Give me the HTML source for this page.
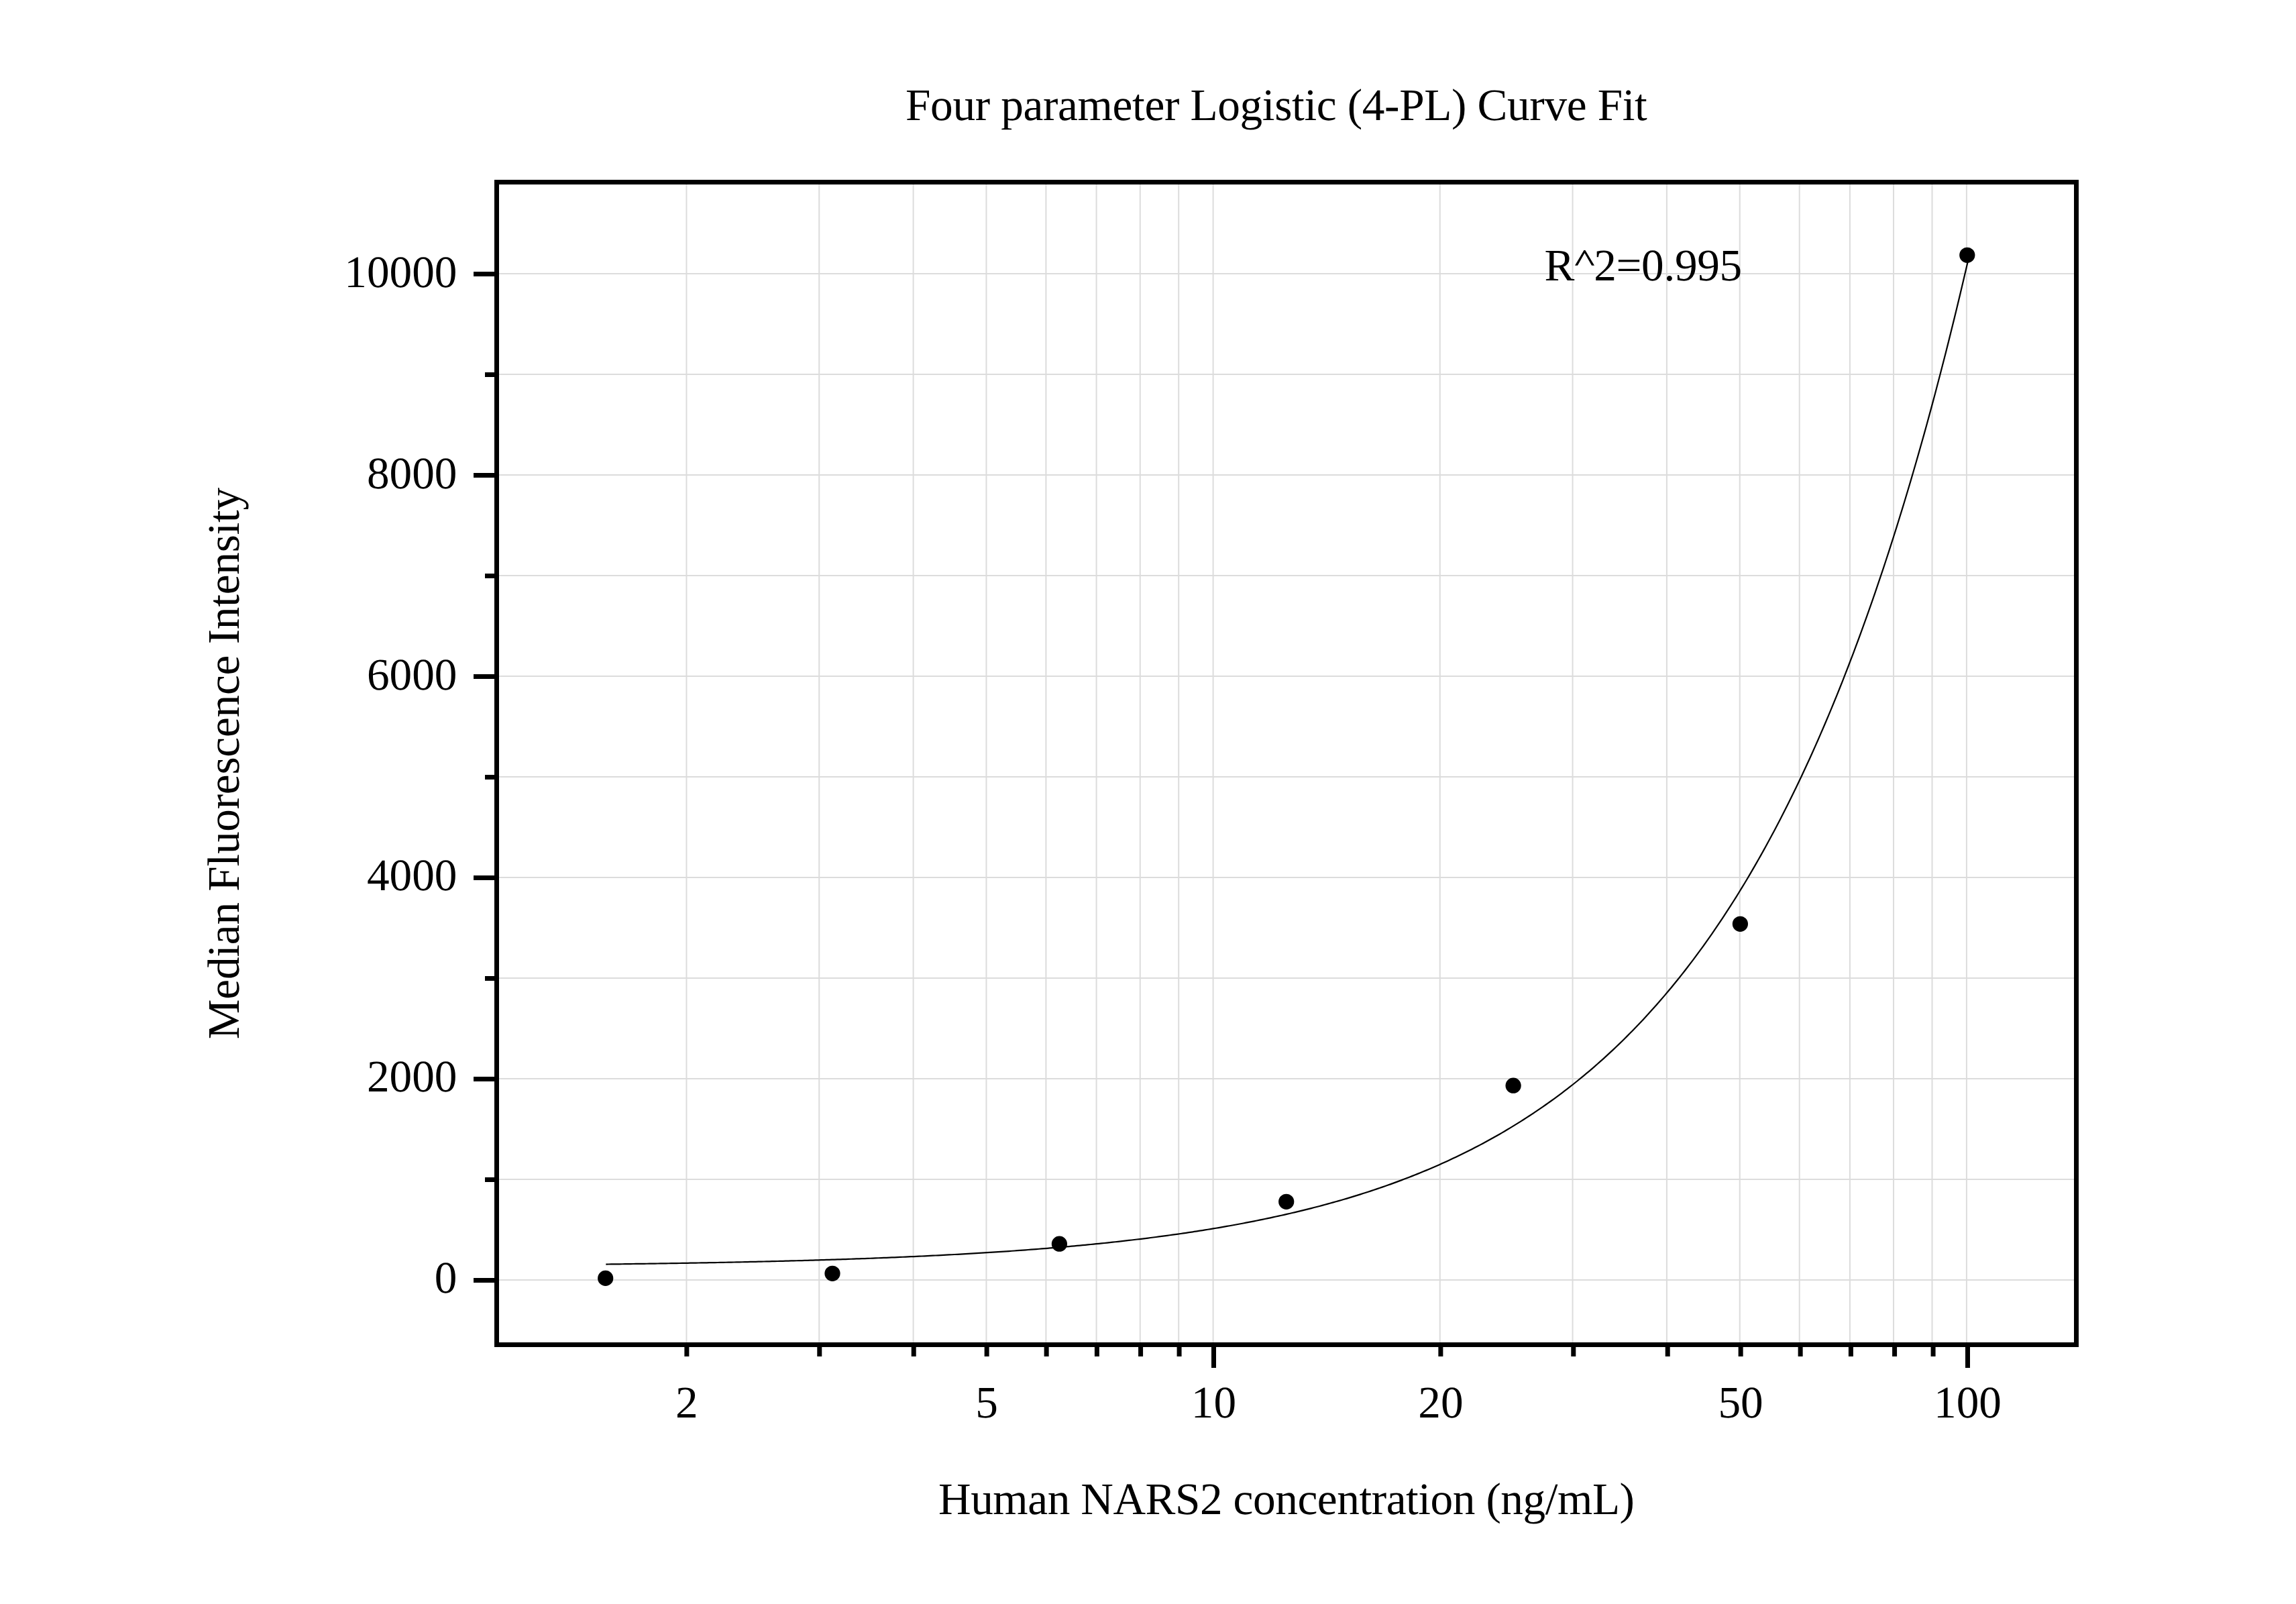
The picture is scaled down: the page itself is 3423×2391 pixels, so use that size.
<!DOCTYPE html><html><head><meta charset="utf-8"><style>html,body{margin:0;padding:0;background:#fff;width:3423px;height:2391px;overflow:hidden}svg{display:block}text{font-family:"Liberation Serif",serif;fill:#000;text-rendering:geometricPrecision}</style></head><body>
<svg width="3423" height="2391" viewBox="0 0 3423 2391">
<rect x="0" y="0" width="3423" height="2391" fill="#fff"/>
<path d="M744.0,1908.00H3092.0M744.0,1758.00H3092.0M744.0,1608.00H3092.0M744.0,1458.00H3092.0M744.0,1308.00H3092.0M744.0,1158.00H3092.0M744.0,1008.00H3092.0M744.0,858.00H3092.0M744.0,708.00H3092.0M744.0,558.00H3092.0M744.0,408.00H3092.0M1023.45,275.0V2001.0M1221.25,275.0V2001.0M1361.59,275.0V2001.0M1470.45,275.0V2001.0M1559.40,275.0V2001.0M1634.60,275.0V2001.0M1699.74,275.0V2001.0M1757.20,275.0V2001.0M1808.60,275.0V2001.0M2146.75,275.0V2001.0M2344.55,275.0V2001.0M2484.89,275.0V2001.0M2593.75,275.0V2001.0M2682.70,275.0V2001.0M2757.90,275.0V2001.0M2823.04,275.0V2001.0M2880.50,275.0V2001.0M2931.90,275.0V2001.0" stroke="#dcdcdc" stroke-width="2" fill="none"/>
<path d="M903.35,1884.54 L907.41,1884.49 L911.47,1884.44 L915.53,1884.39 L919.59,1884.34 L923.66,1884.29 L927.72,1884.24 L931.78,1884.18 L935.84,1884.13 L939.90,1884.08 L943.96,1884.02 L948.02,1883.97 L952.08,1883.91 L956.14,1883.86 L960.20,1883.80 L964.26,1883.74 L968.32,1883.68 L972.38,1883.62 L976.44,1883.56 L980.50,1883.50 L984.56,1883.44 L988.62,1883.38 L992.68,1883.32 L996.74,1883.25 L1000.80,1883.19 L1004.86,1883.13 L1008.92,1883.06 L1012.98,1882.99 L1017.04,1882.93 L1021.10,1882.86 L1025.16,1882.79 L1029.22,1882.72 L1033.28,1882.65 L1037.34,1882.58 L1041.40,1882.51 L1045.46,1882.43 L1049.52,1882.36 L1053.58,1882.29 L1057.64,1882.21 L1061.71,1882.13 L1065.77,1882.06 L1069.83,1881.98 L1073.89,1881.90 L1077.95,1881.82 L1082.01,1881.74 L1086.07,1881.66 L1090.13,1881.57 L1094.19,1881.49 L1098.25,1881.40 L1102.31,1881.32 L1106.37,1881.23 L1110.43,1881.14 L1114.49,1881.05 L1118.55,1880.96 L1122.61,1880.87 L1126.67,1880.78 L1130.73,1880.69 L1134.79,1880.59 L1138.85,1880.50 L1142.91,1880.40 L1146.97,1880.30 L1151.03,1880.20 L1155.09,1880.10 L1159.15,1880.00 L1163.21,1879.90 L1167.27,1879.79 L1171.33,1879.69 L1175.39,1879.58 L1179.45,1879.47 L1183.51,1879.36 L1187.57,1879.25 L1191.63,1879.14 L1195.69,1879.03 L1199.76,1878.92 L1203.82,1878.80 L1207.88,1878.68 L1211.94,1878.56 L1216.00,1878.44 L1220.06,1878.32 L1224.12,1878.20 L1228.18,1878.08 L1232.24,1877.95 L1236.30,1877.82 L1240.36,1877.70 L1244.42,1877.57 L1248.48,1877.43 L1252.54,1877.30 L1256.60,1877.17 L1260.66,1877.03 L1264.72,1876.89 L1268.78,1876.75 L1272.84,1876.61 L1276.90,1876.47 L1280.96,1876.32 L1285.02,1876.18 L1289.08,1876.03 L1293.14,1875.88 L1297.20,1875.73 L1301.26,1875.57 L1305.32,1875.42 L1309.38,1875.26 L1313.44,1875.10 L1317.50,1874.94 L1321.56,1874.78 L1325.62,1874.61 L1329.68,1874.45 L1333.74,1874.28 L1337.81,1874.11 L1341.87,1873.93 L1345.93,1873.76 L1349.99,1873.58 L1354.05,1873.40 L1358.11,1873.22 L1362.17,1873.04 L1366.23,1872.85 L1370.29,1872.67 L1374.35,1872.48 L1378.41,1872.28 L1382.47,1872.09 L1386.53,1871.89 L1390.59,1871.69 L1394.65,1871.49 L1398.71,1871.29 L1402.77,1871.08 L1406.83,1870.87 L1410.89,1870.66 L1414.95,1870.45 L1419.01,1870.23 L1423.07,1870.01 L1427.13,1869.79 L1431.19,1869.57 L1435.25,1869.34 L1439.31,1869.11 L1443.37,1868.88 L1447.43,1868.64 L1451.49,1868.41 L1455.55,1868.17 L1459.61,1867.92 L1463.67,1867.68 L1467.73,1867.43 L1471.79,1867.18 L1475.85,1866.92 L1479.92,1866.66 L1483.98,1866.40 L1488.04,1866.14 L1492.10,1865.87 L1496.16,1865.60 L1500.22,1865.32 L1504.28,1865.05 L1508.34,1864.77 L1512.40,1864.48 L1516.46,1864.20 L1520.52,1863.91 L1524.58,1863.61 L1528.64,1863.31 L1532.70,1863.01 L1536.76,1862.71 L1540.82,1862.40 L1544.88,1862.09 L1548.94,1861.77 L1553.00,1861.45 L1557.06,1861.13 L1561.12,1860.80 L1565.18,1860.47 L1569.24,1860.14 L1573.30,1859.80 L1577.36,1859.46 L1581.42,1859.11 L1585.48,1858.76 L1589.54,1858.40 L1593.60,1858.04 L1597.66,1857.68 L1601.72,1857.31 L1605.78,1856.94 L1609.84,1856.56 L1613.90,1856.18 L1617.97,1855.80 L1622.03,1855.41 L1626.09,1855.01 L1630.15,1854.61 L1634.21,1854.21 L1638.27,1853.80 L1642.33,1853.38 L1646.39,1852.97 L1650.45,1852.54 L1654.51,1852.11 L1658.57,1851.68 L1662.63,1851.24 L1666.69,1850.79 L1670.75,1850.35 L1674.81,1849.89 L1678.87,1849.43 L1682.93,1848.96 L1686.99,1848.49 L1691.05,1848.01 L1695.11,1847.53 L1699.17,1847.04 L1703.23,1846.55 L1707.29,1846.05 L1711.35,1845.54 L1715.41,1845.03 L1719.47,1844.51 L1723.53,1843.99 L1727.59,1843.46 L1731.65,1842.92 L1735.71,1842.38 L1739.77,1841.83 L1743.83,1841.27 L1747.89,1840.71 L1751.95,1840.14 L1756.02,1839.56 L1760.08,1838.98 L1764.14,1838.39 L1768.20,1837.79 L1772.26,1837.19 L1776.32,1836.58 L1780.38,1835.96 L1784.44,1835.33 L1788.50,1834.70 L1792.56,1834.06 L1796.62,1833.41 L1800.68,1832.75 L1804.74,1832.09 L1808.80,1831.42 L1812.86,1830.74 L1816.92,1830.05 L1820.98,1829.35 L1825.04,1828.65 L1829.10,1827.94 L1833.16,1827.21 L1837.22,1826.48 L1841.28,1825.75 L1845.34,1825.00 L1849.40,1824.24 L1853.46,1823.48 L1857.52,1822.70 L1861.58,1821.92 L1865.64,1821.13 L1869.70,1820.32 L1873.76,1819.51 L1877.82,1818.69 L1881.88,1817.86 L1885.94,1817.02 L1890.00,1816.17 L1894.07,1815.31 L1898.13,1814.44 L1902.19,1813.55 L1906.25,1812.66 L1910.31,1811.76 L1914.37,1810.85 L1918.43,1809.92 L1922.49,1808.99 L1926.55,1808.04 L1930.61,1807.08 L1934.67,1806.11 L1938.73,1805.13 L1942.79,1804.14 L1946.85,1803.14 L1950.91,1802.12 L1954.97,1801.09 L1959.03,1800.05 L1963.09,1799.00 L1967.15,1797.94 L1971.21,1796.86 L1975.27,1795.77 L1979.33,1794.67 L1983.39,1793.55 L1987.45,1792.42 L1991.51,1791.28 L1995.57,1790.12 L1999.63,1788.95 L2003.69,1787.76 L2007.75,1786.57 L2011.81,1785.35 L2015.87,1784.13 L2019.93,1782.89 L2023.99,1781.63 L2028.05,1780.36 L2032.12,1779.07 L2036.18,1777.77 L2040.24,1776.45 L2044.30,1775.12 L2048.36,1773.77 L2052.42,1772.41 L2056.48,1771.03 L2060.54,1769.63 L2064.60,1768.22 L2068.66,1766.79 L2072.72,1765.34 L2076.78,1763.87 L2080.84,1762.39 L2084.90,1760.89 L2088.96,1759.38 L2093.02,1757.84 L2097.08,1756.29 L2101.14,1754.72 L2105.20,1753.12 L2109.26,1751.52 L2113.32,1749.89 L2117.38,1748.24 L2121.44,1746.57 L2125.50,1744.88 L2129.56,1743.18 L2133.62,1741.45 L2137.68,1739.70 L2141.74,1737.93 L2145.80,1736.14 L2149.86,1734.33 L2153.92,1732.50 L2157.98,1730.65 L2162.04,1728.77 L2166.10,1726.87 L2170.16,1724.95 L2174.23,1723.01 L2178.29,1721.04 L2182.35,1719.05 L2186.41,1717.04 L2190.47,1715.00 L2194.53,1712.94 L2198.59,1710.85 L2202.65,1708.74 L2206.71,1706.60 L2210.77,1704.44 L2214.83,1702.25 L2218.89,1700.04 L2222.95,1697.80 L2227.01,1695.54 L2231.07,1693.24 L2235.13,1690.92 L2239.19,1688.58 L2243.25,1686.20 L2247.31,1683.80 L2251.37,1681.37 L2255.43,1678.90 L2259.49,1676.42 L2263.55,1673.90 L2267.61,1671.35 L2271.67,1668.77 L2275.73,1666.16 L2279.79,1663.52 L2283.85,1660.84 L2287.91,1658.14 L2291.97,1655.40 L2296.03,1652.63 L2300.09,1649.83 L2304.15,1647.00 L2308.21,1644.13 L2312.28,1641.23 L2316.34,1638.29 L2320.40,1635.32 L2324.46,1632.31 L2328.52,1629.27 L2332.58,1626.19 L2336.64,1623.08 L2340.70,1619.93 L2344.76,1616.74 L2348.82,1613.51 L2352.88,1610.25 L2356.94,1606.94 L2361.00,1603.60 L2365.06,1600.22 L2369.12,1596.80 L2373.18,1593.33 L2377.24,1589.83 L2381.30,1586.28 L2385.36,1582.70 L2389.42,1579.07 L2393.48,1575.39 L2397.54,1571.68 L2401.60,1567.92 L2405.66,1564.11 L2409.72,1560.26 L2413.78,1556.37 L2417.84,1552.42 L2421.90,1548.44 L2425.96,1544.40 L2430.02,1540.32 L2434.08,1536.18 L2438.14,1532.00 L2442.20,1527.77 L2446.26,1523.49 L2450.33,1519.16 L2454.39,1514.78 L2458.45,1510.35 L2462.51,1505.86 L2466.57,1501.32 L2470.63,1496.73 L2474.69,1492.08 L2478.75,1487.38 L2482.81,1482.62 L2486.87,1477.80 L2490.93,1472.93 L2494.99,1468.00 L2499.05,1463.01 L2503.11,1457.97 L2507.17,1452.86 L2511.23,1447.70 L2515.29,1442.47 L2519.35,1437.18 L2523.41,1431.83 L2527.47,1426.41 L2531.53,1420.93 L2535.59,1415.39 L2539.65,1409.78 L2543.71,1404.10 L2547.77,1398.36 L2551.83,1392.55 L2555.89,1386.67 L2559.95,1380.72 L2564.01,1374.70 L2568.07,1368.61 L2572.13,1362.45 L2576.19,1356.21 L2580.25,1349.90 L2584.31,1343.52 L2588.38,1337.06 L2592.44,1330.53 L2596.50,1323.91 L2600.56,1317.22 L2604.62,1310.45 L2608.68,1303.60 L2612.74,1296.67 L2616.80,1289.66 L2620.86,1282.57 L2624.92,1275.39 L2628.98,1268.13 L2633.04,1260.78 L2637.10,1253.34 L2641.16,1245.82 L2645.22,1238.20 L2649.28,1230.50 L2653.34,1222.71 L2657.40,1214.83 L2661.46,1206.85 L2665.52,1198.78 L2669.58,1190.61 L2673.64,1182.35 L2677.70,1173.98 L2681.76,1165.52 L2685.82,1156.97 L2689.88,1148.31 L2693.94,1139.54 L2698.00,1130.68 L2702.06,1121.71 L2706.12,1112.63 L2710.18,1103.45 L2714.24,1094.16 L2718.30,1084.76 L2722.36,1075.25 L2726.43,1065.63 L2730.49,1055.89 L2734.55,1046.04 L2738.61,1036.08 L2742.67,1025.99 L2746.73,1015.79 L2750.79,1005.47 L2754.85,995.02 L2758.91,984.46 L2762.97,973.77 L2767.03,962.95 L2771.09,952.00 L2775.15,940.93 L2779.21,929.73 L2783.27,918.39 L2787.33,906.93 L2791.39,895.32 L2795.45,883.58 L2799.51,871.71 L2803.57,859.69 L2807.63,847.53 L2811.69,835.23 L2815.75,822.79 L2819.81,810.20 L2823.87,797.46 L2827.93,784.57 L2831.99,771.53 L2836.05,758.34 L2840.11,744.99 L2844.17,731.49 L2848.23,717.83 L2852.29,704.00 L2856.35,690.02 L2860.41,675.87 L2864.48,661.56 L2868.54,647.08 L2872.60,632.42 L2876.66,617.60 L2880.72,602.60 L2884.78,587.43 L2888.84,572.08 L2892.90,556.55 L2896.96,540.84 L2901.02,524.94 L2905.08,508.86 L2909.14,492.59 L2913.20,476.13 L2917.26,459.48 L2921.32,442.63 L2925.38,425.59 L2929.44,408.35 L2933.50,390.90" stroke="#000" stroke-width="2.2" fill="none" stroke-linejoin="round"/>
<path d="M706.0,1908.5H740.5M723.0,1758.5H740.5M706.0,1608.5H740.5M723.0,1458.5H740.5M706.0,1308.5H740.5M723.0,1158.5H740.5M706.0,1008.5H740.5M723.0,858.5H740.5M706.0,708.5H740.5M723.0,558.5H740.5M706.0,408.5H740.5M1023.86,2004.5V2022.0M1221.78,2004.5V2022.0M1362.22,2004.5V2022.0M1471.14,2004.5V2022.0M1560.14,2004.5V2022.0M1635.39,2004.5V2022.0M1700.57,2004.5V2022.0M1758.07,2004.5V2022.0M1809.50,2004.5V2039.0M2147.86,2004.5V2022.0M2345.78,2004.5V2022.0M2486.22,2004.5V2022.0M2595.14,2004.5V2022.0M2684.14,2004.5V2022.0M2759.39,2004.5V2022.0M2824.57,2004.5V2022.0M2882.07,2004.5V2022.0M2933.50,2004.5V2039.0" stroke="#000" stroke-width="7" fill="none"/>
<rect x="740.5" y="271.5" width="2355.0" height="1733.0" stroke="#000" stroke-width="7" fill="none" stroke-linejoin="miter"/>
<circle cx="902.7" cy="1905.4" r="11.6" fill="#000"/>
<circle cx="1241.0" cy="1898.3" r="11.6" fill="#000"/>
<circle cx="1579.4" cy="1854.2" r="11.6" fill="#000"/>
<circle cx="1917.7" cy="1791.3" r="11.6" fill="#000"/>
<circle cx="2256.1" cy="1618.2" r="11.6" fill="#000"/>
<circle cx="2594.4" cy="1377.3" r="11.6" fill="#000"/>
<circle cx="2932.8" cy="380.3" r="11.6" fill="#000"/>
<text x="681.5" y="1926.7" font-size="67.3" text-anchor="end">0</text>
<text x="681.5" y="1626.7" font-size="67.3" text-anchor="end">2000</text>
<text x="681.5" y="1326.7" font-size="67.3" text-anchor="end">4000</text>
<text x="681.5" y="1027.7" font-size="67.3" text-anchor="end">6000</text>
<text x="681.5" y="727.7" font-size="67.3" text-anchor="end">8000</text>
<text x="681.5" y="427.7" font-size="67.3" text-anchor="end">10000</text>
<text x="1023.9" y="2112.8" font-size="67.3" text-anchor="middle">2</text>
<text x="1471.1" y="2112.8" font-size="67.3" text-anchor="middle">5</text>
<text x="1809.5" y="2112.8" font-size="67.3" text-anchor="middle">10</text>
<text x="2147.9" y="2112.8" font-size="67.3" text-anchor="middle">20</text>
<text x="2595.1" y="2112.8" font-size="67.3" text-anchor="middle">50</text>
<text x="2933.5" y="2112.8" font-size="67.3" text-anchor="middle">100</text>
<text x="1350.00" y="179" font-size="67.3" textLength="1105.80" lengthAdjust="spacing">Four parameter Logistic (4-PL) Curve Fit</text>
<text x="1399.00" y="2256.7" font-size="67.3" textLength="1038.00" lengthAdjust="spacing">Human NARS2 concentration (ng/mL)</text>
<text x="2302.50" y="417.7" font-size="67.3">R</text>
<text x="2376.20" y="417.7" font-size="67.3" textLength="221.00" lengthAdjust="spacing">2=0.995</text>
<path d="M2348,395.7L2361.4,373H2363.4L2377,395.7H2373L2362.4,377.3L2352,395.7Z" fill="#000"/>
<text transform="translate(356,1549.20) rotate(-90)" font-size="67.3" textLength="822.30" lengthAdjust="spacing">Median Fluorescence Intensity</text>
</svg></body></html>
